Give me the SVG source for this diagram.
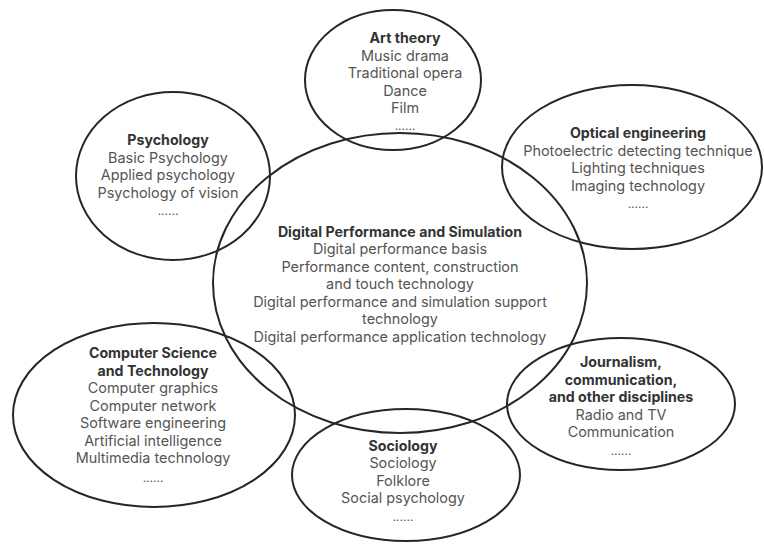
<svg xmlns="http://www.w3.org/2000/svg" width="764" height="546" viewBox="0 0 764 546">
<style>
.e{fill:none;stroke:#262626;stroke-width:2}
text{font-family:Inter,"Open Sans","DejaVu Sans",sans-serif;font-size:14.4px;fill:#555;text-anchor:middle}
.t{font-weight:bold;fill:#333;font-size:14.2px}
.d{font-size:12px}
</style>
<rect width="764" height="546" fill="#fff"/>
<g id="connectors"></g>
<g id="art">
<ellipse class="e" cx="393" cy="80" rx="88" ry="70"/>
<text class="t" x="405" y="43">Art theory</text>
<text x="405" y="60.5">Music drama</text>
<text x="405" y="78">Traditional opera</text>
<text x="405" y="95.5">Dance</text>
<text x="405" y="113">Film</text>
<text class="d" x="405" y="130">......</text>
</g>
<g id="psychology">
<ellipse class="e" cx="173" cy="176" rx="97" ry="84"/>
<text class="t" x="168" y="145">Psychology</text>
<text x="168" y="162.5">Basic Psychology</text>
<text x="168" y="180">Applied psychology</text>
<text x="168" y="197.5">Psychology of vision</text>
<text class="d" x="168" y="215">......</text>
</g>
<g id="optical">
<ellipse class="e" cx="632" cy="167" rx="130" ry="82"/>
<text class="t" x="638" y="138">Optical engineering</text>
<text x="638" y="155.5">Photoelectric detecting technique</text>
<text x="638" y="173">Lighting techniques</text>
<text x="638" y="190.5">Imaging technology</text>
<text class="d" x="638" y="208">......</text>
</g>
<g id="central">
<ellipse class="e" cx="400" cy="283" rx="187" ry="150"/>
<text class="t" x="400" y="236.5">Digital Performance and Simulation</text>
<text x="400" y="254">Digital performance basis</text>
<text x="400" y="271.5">Performance content, construction</text>
<text x="400" y="289">and touch technology</text>
<text x="400" y="306.5">Digital performance and simulation support</text>
<text x="400" y="324">technology</text>
<text x="400" y="341.5">Digital performance application technology</text>
</g>
<g id="cs">
<ellipse class="e" cx="154" cy="415" rx="141" ry="92"/>
<text class="t" x="153" y="358">Computer Science</text>
<text class="t" x="153" y="375.5">and Technology</text>
<text x="153" y="393">Computer graphics</text>
<text x="153" y="410.5">Computer network</text>
<text x="153" y="428">Software engineering</text>
<text x="153" y="445.5">Artificial intelligence</text>
<text x="153" y="463">Multimedia technology</text>
<text class="d" x="153" y="482">......</text>
</g>
<g id="sociology">
<ellipse class="e" cx="406" cy="475" rx="114" ry="66"/>
<text class="t" x="403" y="450.5">Sociology</text>
<text x="403" y="468">Sociology</text>
<text x="403" y="485.5">Folklore</text>
<text x="403" y="503">Social psychology</text>
<text class="d" x="403" y="521">......</text>
</g>
<g id="journalism">
<ellipse class="e" cx="621" cy="404" rx="114" ry="66"/>
<text class="t" x="621" y="367">Journalism,</text>
<text class="t" x="621" y="384.5">communication,</text>
<text class="t" x="621" y="402">and other disciplines</text>
<text x="621" y="419.5">Radio and TV</text>
<text x="621" y="437">Communication</text>
<text class="d" x="621" y="455">......</text>
</g>
</svg>
